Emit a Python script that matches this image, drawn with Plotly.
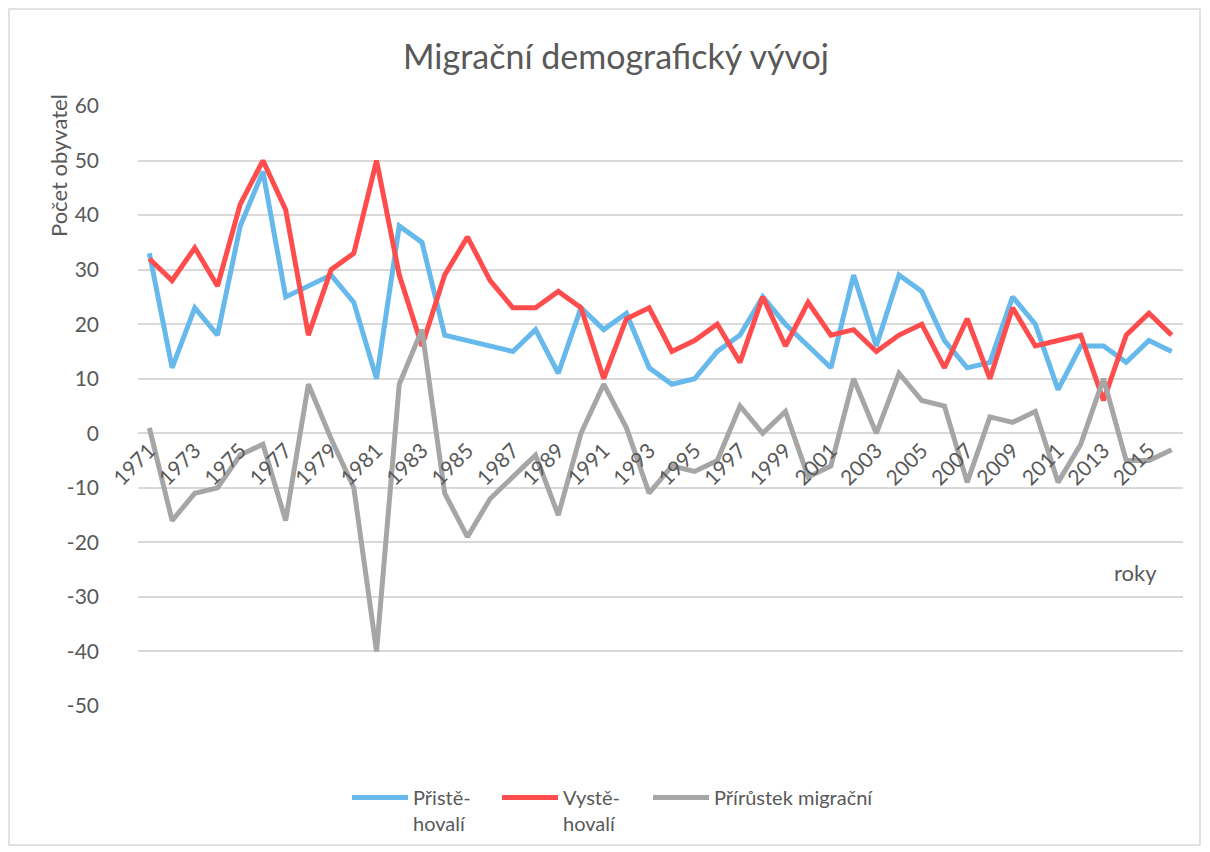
import plotly.graph_objects as go

years = list(range(1971, 2017))
prist = [33, 12, 23, 18, 38, 48, 25, 27, 29, 24, 10, 38, 35, 18, 17, 16, 15, 19, 11, 23,
         19, 22, 12, 9, 10, 15, 18, 25, 20, 16, 12, 29, 16, 29, 26, 17, 12, 13, 25, 20,
         8, 16, 16, 13, 17, 15]
vyst = [32, 28, 34, 27, 42, 50, 41, 18, 30, 33, 50, 29, 16, 29, 36, 28, 23, 23, 26, 23,
        10, 21, 23, 15, 17, 20, 13, 25, 16, 24, 18, 19, 15, 18, 20, 12, 21, 10, 23, 16,
        17, 18, 6, 18, 22, 18]
prir = [1, -16, -11, -10, -4, -2, -16, 9, -1, -10, -40, 9, 19, -11, -19, -12, -8, -4, -15, 0,
        9, 1, -11, -6, -7, -5, 5, 0, 4, -8, -6, 10, 0, 11, 6, 5, -9, 3, 2, 4,
        -9, -2, 10, -5, -5, -3]
series_names = ["Přistě-<br>hovalí", "Vystě-<br>hovalí", "Přírůstek migrační"]
series_colors = ["#66B9EA", "#FF4D4D", "#A6A6A6"]
tick_years = years[::2]
y_ticks = [-50, -40, -30, -20, -10, 0, 10, 20, 30, 40, 50, 60]
y_ticktext = ["-50", "-40", "-30", "-20", "-10", "0", "10", "20", "30", "40", "50", "60"]

FONT = "Lato"
TXT = "#595959"

OFF = 8  # page body margin
W, H = 1202, 844
ml, mt = 130, 98
pw, ph = 1045, 600
mr, mb = W - ml - pw, H - mt - ph

def px(x):
    return (x - OFF - ml) / pw

def py(y):
    return (mt + ph - (y - OFF)) / ph

legend_ids = ["legend", "legend2", "legend3"]
legend_left = [347, 497, 648]

fig = go.Figure()
for name, vals, col, lid in zip(series_names, [prist, vyst, prir], series_colors, legend_ids):
    fig.add_trace(go.Scatter(x=years, y=vals, mode="lines", name=name, legend=lid,
                             line=dict(color=col, width=5)))

leg_common = dict(orientation="h", xanchor="left", y=py(778), yanchor="top",
                  font=dict(size=20, color=TXT, family=FONT), valign="top",
                  bgcolor="rgba(0,0,0,0)", itemwidth=56)

fig.update_layout(
    width=W, height=H,
    margin=dict(l=ml, r=mr, t=mt, b=mb, autoexpand=False),
    paper_bgcolor="white", plot_bgcolor="white",
    font=dict(family=FONT, color=TXT, size=20),
    title=dict(text="Migrační demografický vývoj", x=(616 - OFF) / W, xref="container",
               y=1 - (57 - OFF) / H, yref="container", xanchor="center", yanchor="middle",
               font=dict(size=34, color=TXT, family=FONT)),
    xaxis=dict(range=[1970.5, 2016.5], tickmode="array", tickvals=tick_years,
               ticktext=[str(v) for v in tick_years], tickangle=-45,
               showgrid=False, zeroline=False, showline=False, ticks="",
               anchor="free", position=50 / 110,
               tickfont=dict(size=21, color=TXT, family=FONT)),
    yaxis=dict(range=[-50, 60], tickmode="array", tickvals=y_ticks, ticktext=y_ticktext,
               showgrid=True, gridcolor="#D9D9D9", gridwidth=1.5, zeroline=False,
               showline=False, ticks="", ticklabelstandoff=38,
               tickfont=dict(size=21, color=TXT, family=FONT)),
    legend=dict(x=px(legend_left[0]), **leg_common),
    legend2=dict(x=px(legend_left[1]), **leg_common),
    legend3=dict(x=px(legend_left[2]), **leg_common),
    showlegend=True,
)

fig.add_annotation(text="Počet obyvatel", textangle=-90, xref="paper", yref="paper",
                   x=px(58), y=py(166), xanchor="center", yanchor="middle",
                   showarrow=False, font=dict(size=22, color=TXT, family=FONT))
fig.add_annotation(text="roky", xref="paper", yref="paper",
                   x=px(1135), y=py(572), xanchor="center", yanchor="middle",
                   showarrow=False, font=dict(size=22, color=TXT, family=FONT))
fig.add_shape(type="rect", xref="paper", yref="paper",
              x0=px(9), x1=px(1200), y0=py(845), y1=py(9),
              line=dict(color="#D9D9D9", width=1.5), fillcolor="rgba(0,0,0,0)", layer="below")

fig.write_html("out.html")
